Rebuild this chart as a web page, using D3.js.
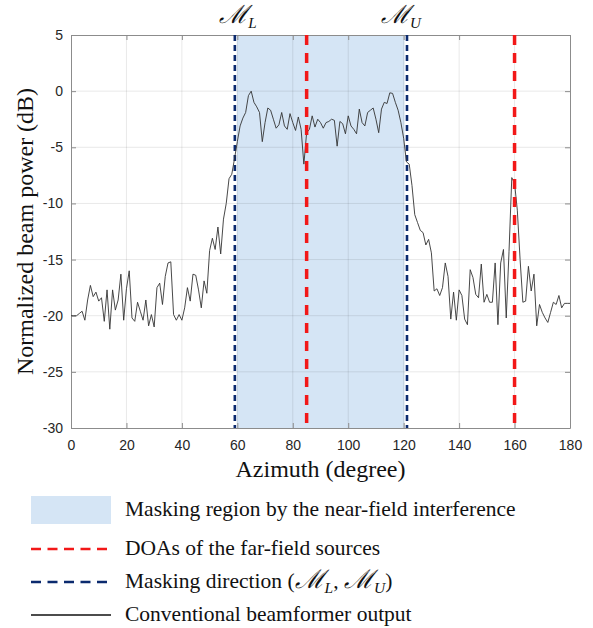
<!DOCTYPE html>
<html>
<head>
<meta charset="utf-8">
<script src="https://cdn.jsdelivr.net/npm/d3@7"></script>
<style>
  body { margin: 0; background: #fff; }
  .tick text { font-family: "Liberation Sans", Arial, sans-serif; font-size: 14px; fill: #262626; }
  .label { font-family: "Liberation Serif", "Times New Roman", serif; fill: #111; }
  .legend-text { font-family: "Liberation Serif", "Times New Roman", serif; font-size: 21.5px; fill: #111; }
</style>
</head>
<body>
<div id="chart"></div>
<script>
// Chart dimensions
const width = 593;
const height = 628;
const margin = {top: 35, right: 23, bottom: 200, left: 71};

// Azimuth grid (degrees) and beamformer output (dB)
const azimuth = [
    0, 1, 2, 3, 4, 5, 6, 7, 8, 9, 10, 11, 12, 13, 14, 15, 16, 17, 18, 19,
    20, 21, 22, 23, 24, 25, 26, 27, 28, 29, 30, 31, 32, 33, 34, 35, 36, 37, 38, 39,
    40, 41, 42, 43, 44, 45, 46, 47, 48, 49, 50, 51, 52, 53, 54, 55, 56, 57, 58, 59,
    60, 61, 62, 63, 64, 65, 66, 67, 68, 69, 70, 71, 72, 73, 74, 75, 76, 77, 78, 79,
    80, 81, 82, 83, 84, 85, 86, 87, 88, 89, 90, 91, 92, 93, 94, 95, 96, 97, 98, 99,
    100, 101, 102, 103, 104, 105, 106, 107, 108, 109, 110, 111, 112, 113, 114, 115, 116, 117, 118, 119,
    120, 121, 122, 123, 124, 125, 126, 127, 128, 129, 130, 131, 132, 133, 134, 135, 136, 137, 138, 139,
    140, 141, 142, 143, 144, 145, 146, 147, 148, 149, 150, 151, 152, 153, 154, 155, 156, 157, 158, 159,
    160, 161, 162, 163, 164, 165, 166, 167, 168, 169, 170, 171, 172, 173, 174, 175, 176, 177, 178, 179,
    180
];
const beamPower = [
    -20, -20, -20, -19.8, -19.6, -20.4, -18.6, -17.3, -18.3, -17.9,
    -18.7, -18.4, -20.5, -17.7, -21.2, -17.7, -19.5, -18.6, -16.3, -20.4,
    -17.6, -16.0, -20.2, -20.5, -18.8, -19.6, -20.4, -18.6, -20.9, -19.9,
    -21.0, -17.5, -17.1, -19.0, -16.5, -15.3, -15.2, -19.9, -20.4, -19.9,
    -20.4, -19.3, -17.5, -18.7, -16.3, -16.4, -17.7, -19.3, -16.9, -18.0,
    -14.2, -13.1, -14.1, -12.1, -14.5, -11.4, -10.0, -7.8, -7.4, -6.0,
    -4.5, -3.1, -2.4, -1.9, -0.4, 0, -1.0, -1.4, -1.9, -4.5,
    -2.8, -1.5, -1.7, -2.5, -3.3, -3.0, -1.9, -3.1, -3.4, -2.0,
    -2.8, -3.5, -2.3, -3.4, -6.5, -3.7, -3.4, -2.2, -3.2, -2.5,
    -2.8, -3.3, -2.8, -2.7, -2.5, -2.6, -4.9, -2.7, -2.9, -3.8,
    -2.2, -3.1, -3.4, -3.8, -1.6, -2.8, -3.1, -1.9, -1.7, -1.5,
    -2.5, -3.7, -1.6, -1.0, -1.1, -0.15, -0.2, -1.0, -1.7, -2.8,
    -4.2, -6.3, -6.5, -8.4, -11.0, -11.7, -12.4, -12.6, -13.7, -13.2,
    -14.4, -17.8, -17.6, -18.2, -17.5, -15.3, -16.5, -20.3, -17.9, -20.4,
    -17.7, -18.2, -20.3, -20.8, -15.9, -16.6, -18.1, -18.4, -15.4, -18.8,
    -18.1, -18.8, -18.8, -15.3, -20.8, -15.3, -14.1, -20.2, -14.3, -7.7,
    -8.2, -10.6, -15.0, -18.8, -18.7, -15.6, -17.8, -16.3, -20.9, -19.0,
    -19.7, -20.2, -20.6, -19.7, -18.8, -19.0, -18.2, -19.3, -18.9, -18.9,
    -18.9
];

const maskRegion = [59.8, 120.3];     // shaded region
const maskDirections = [59.1, 121.2]; // M_L, M_U
const maskNames = ["L", "U"];
const doas = [85, 160];               // far-field sources

const xTicks = [0, 20, 40, 60, 80, 100, 120, 140, 160, 180];
const yTicks = [5, 0, -5, -10, -15, -20, -25, -30];

const legendItems = [
    {type: "patch", text: "Masking region by the near-field interference"},
    {type: "red", text: "DOAs of the far-field sources"},
    {type: "blue", text: "Masking direction"},
    {type: "line", text: "Conventional beamformer output"}
];

const svg = d3.select("#chart")
    .append("svg")
    .attr("width", width)
    .attr("height", height);

const plotW = width - margin.left - margin.right;
const plotH = height - margin.top - margin.bottom;

const x = d3.scaleLinear().domain([0, 180]).range([margin.left, margin.left + plotW]);
const y = d3.scaleLinear().domain([-30, 5]).range([margin.top + plotH, margin.top]);

// Masking patch
svg.append("rect")
    .attr("x", x(maskRegion[0]))
    .attr("y", y(5))
    .attr("width", x(maskRegion[1]) - x(maskRegion[0]))
    .attr("height", y(-30) - y(5))
    .attr("fill", "#d5e5f5");

// Grid
const grid = svg.append("g").attr("stroke", "rgba(0,0,0,0.09)").attr("stroke-width", 1);
grid.selectAll(".gx").data(xTicks.slice(1, -1)).join("line")
    .attr("x1", d => x(d)).attr("x2", d => x(d))
    .attr("y1", y(5)).attr("y2", y(-30));
grid.selectAll(".gy").data(yTicks.slice(1, -1)).join("line")
    .attr("y1", d => y(d)).attr("y2", d => y(d))
    .attr("x1", x(0)).attr("x2", x(180));

// Axes (ticks inward), plus box; plain hyphen for negatives like the original
const fmt = d => String(d);
const axisColor = "#8c8c8c";
const xAxisG = svg.append("g")
    .attr("transform", `translate(0,${y(-30)})`)
    .call(d3.axisBottom(x).tickValues(xTicks).tickFormat(fmt).tickSizeInner(-5).tickSizeOuter(0).tickPadding(12));
const yAxisG = svg.append("g")
    .attr("transform", `translate(${x(0)},0)`)
    .call(d3.axisLeft(y).tickValues(yTicks).tickFormat(fmt).tickSizeInner(-5).tickSizeOuter(0).tickPadding(8));
const xTopG = svg.append("g")
    .attr("transform", `translate(0,${y(5)})`)
    .call(d3.axisTop(x).tickValues(xTicks).tickSizeInner(-5).tickSizeOuter(0).tickFormat(""));
const yRightG = svg.append("g")
    .attr("transform", `translate(${x(180)},0)`)
    .call(d3.axisRight(y).tickValues(yTicks).tickSizeInner(-5).tickSizeOuter(0).tickFormat(""));
[xAxisG, yAxisG, xTopG, yRightG].forEach(g => {
    g.select(".domain").attr("stroke", axisColor);
    g.selectAll(".tick line").attr("stroke", axisColor);
});

// Masking directions
svg.selectAll(".mask-dir").data(maskDirections).join("line")
    .attr("x1", d => x(d)).attr("x2", d => x(d))
    .attr("y1", y(5)).attr("y2", y(-30))
    .attr("stroke", "#0b2a6e")
    .attr("stroke-width", 2.6)
    .attr("stroke-dasharray", "6,4");

// Beamformer output
const line = d3.line()
    .x((d, i) => x(azimuth[i]))
    .y(d => y(d));
svg.append("path")
    .datum(beamPower)
    .attr("d", line)
    .attr("fill", "none")
    .attr("stroke", "#333")
    .attr("stroke-width", 0.9);

// DOAs
svg.selectAll(".doa").data(doas).join("line")
    .attr("x1", d => x(d)).attr("x2", d => x(d))
    .attr("y1", y(5)).attr("y2", y(-30))
    .attr("stroke", "#f21818")
    .attr("stroke-width", 3.5)
    .attr("stroke-dasharray", "10,8");

// M_L / M_U labels (calligraphic M with subscript)
function mLabel(sel, sub, size) {
    sel.append("tspan").attr("font-style", "italic").attr("font-size", size * 1.2).text("\u2133");
    sel.append("tspan")
        .attr("font-style", "italic")
        .attr("font-size", size * 0.72)
        .attr("dy", size * 0.22)
        .text(sub);
}
maskDirections.forEach((d, i) => {
    const t = svg.append("text")
        .attr("class", "label")
        .attr("x", x(d) + (i === 0 ? 3 : -6))
        .attr("y", 23)
        .attr("text-anchor", "middle")
        .attr("font-size", 21);
    mLabel(t, maskNames[i], 21);
});

// Axis labels
svg.append("text")
    .attr("class", "label")
    .attr("x", (x(0) + x(180)) / 2)
    .attr("y", 477)
    .attr("text-anchor", "middle")
    .attr("font-size", 24)
    .text("Azimuth (degree)");

svg.append("text")
    .attr("class", "label")
    .attr("transform", `translate(33,${(y(5) + y(-30)) / 2}) rotate(-90)`)
    .attr("text-anchor", "middle")
    .attr("font-size", 24)
    .text("Normalized beam power (dB)");

// Legend
const legendY = [510, 549, 582, 615];
const legend = svg.append("g");
legendItems.forEach((item, i) => {
    const cy = legendY[i];
    if (item.type === "patch") {
        legend.append("rect")
            .attr("x", 31).attr("y", cy - 14)
            .attr("width", 80).attr("height", 28)
            .attr("fill", "#d5e5f5");
    } else {
        legend.append("line")
            .attr("x1", 31).attr("x2", 111)
            .attr("y1", cy).attr("y2", cy)
            .attr("stroke", item.type === "red" ? "#f21818" : item.type === "blue" ? "#0b2a6e" : "#111")
            .attr("stroke-width", item.type === "line" ? 1.3 : 2.5)
            .attr("stroke-dasharray", item.type === "line" ? null : "10,6.5");
    }
    const t = legend.append("text")
        .attr("class", "legend-text")
        .attr("x", 125)
        .attr("y", cy + 6);
    t.append("tspan").text(item.text);
    if (item.type === "blue") {
        t.append("tspan").text(" (");
        mLabel(t, "L", 21.5);
        t.append("tspan").attr("dy", -21.5 * 0.22).text(", ");
        mLabel(t, "U", 21.5);
        t.append("tspan").attr("dy", -21.5 * 0.22).text(")");
    }
});
</script>
</body>
</html>
